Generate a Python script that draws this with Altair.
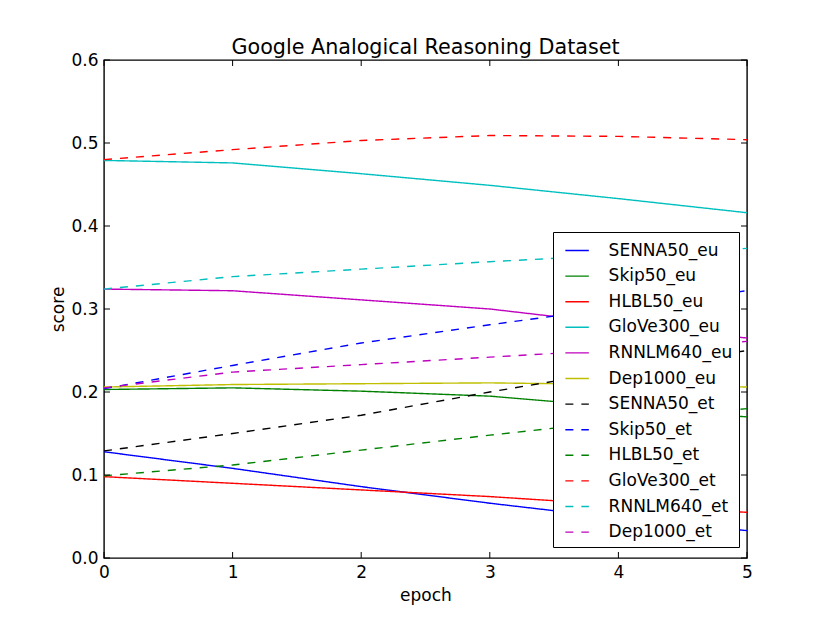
import altair as alt
import pandas as pd

epochs = [0, 1, 2, 3, 4, 5]

series_names = ["SENNA50_eu", "Skip50_eu", "HLBL50_eu", "GloVe300_eu", "RNNLM640_eu", "Dep1000_eu",
                "SENNA50_et", "Skip50_et", "HLBL50_et", "GloVe300_et", "RNNLM640_et", "Dep1000_et"]

SENNA50_eu = [0.128, 0.108, 0.086, 0.066, 0.048, 0.033]
Skip50_eu = [0.203, 0.205, 0.201, 0.195, 0.182, 0.170]
HLBL50_eu = [0.098, 0.090, 0.082, 0.074, 0.064, 0.055]
GloVe300_eu = [0.479, 0.476, 0.463, 0.449, 0.433, 0.416]
RNNLM640_eu = [0.324, 0.322, 0.311, 0.300, 0.282, 0.265]
Dep1000_eu = [0.206, 0.209, 0.210, 0.211, 0.209, 0.206]
SENNA50_et = [0.129, 0.150, 0.172, 0.200, 0.226, 0.250]
Skip50_et = [0.204, 0.232, 0.259, 0.281, 0.302, 0.322]
HLBL50_et = [0.099, 0.112, 0.130, 0.148, 0.165, 0.180]
GloVe300_et = [0.480, 0.492, 0.503, 0.509, 0.508, 0.504]
RNNLM640_et = [0.324, 0.339, 0.348, 0.357, 0.365, 0.373]
Dep1000_et = [0.205, 0.224, 0.233, 0.242, 0.251, 0.261]

series_values = [SENNA50_eu, Skip50_eu, HLBL50_eu, GloVe300_eu, RNNLM640_eu, Dep1000_eu,
                 SENNA50_et, Skip50_et, HLBL50_et, GloVe300_et, RNNLM640_et, Dep1000_et]

colors = ["#0000ff", "#008000", "#ff0000", "#00bfbf", "#bf00bf", "#bfbf00",
          "#000000", "#0000ff", "#008000", "#ff0000", "#00bfbf", "#bf00bf"]
dashes = [[1, 0]] * 6 + [[8, 8]] * 6

x_ticks = [0, 1, 2, 3, 4, 5]
y_ticks = [0.0, 0.1, 0.2, 0.3, 0.4, 0.5, 0.6]

rows = []
for name, vals in zip(series_names, series_values):
    for e, v in zip(epochs, vals):
        rows.append({"series": name, "epoch": e, "score": v})
df = pd.DataFrame(rows)
xt = pd.DataFrame({"epoch": x_ticks})
yt = pd.DataFrame({"score": y_ticks})

W, H = 643, 498
FONT = "DejaVu Sans"
TL = 6

xscale = alt.Scale(domain=[0, 5], nice=False, zero=False)
yscale = alt.Scale(domain=[0, 0.6], nice=False, zero=False)

lines = alt.Chart(df).mark_line(strokeWidth=1.4).encode(
    x=alt.X("epoch:Q", scale=xscale,
            axis=alt.Axis(title="epoch", values=x_ticks, format="d",
                          titleX=W / 2, titleY=42, titleBaseline="alphabetic")),
    y=alt.Y("score:Q", scale=yscale,
            axis=alt.Axis(title="score", values=y_ticks, format=".1f",
                          titleX=-40.5, titleY=H / 2, titleAngle=270,
                          titleBaseline="alphabetic")),
    color=alt.Color("series:N", scale=alt.Scale(domain=series_names, range=colors),
                    legend=alt.Legend(title=None)),
    strokeDash=alt.StrokeDash("series:N", scale=alt.Scale(domain=series_names, range=dashes),
                              legend=alt.Legend(title=None)),
)

xt_bottom = alt.Chart(xt).mark_rule(color="black", strokeWidth=1).encode(
    x=alt.X("epoch:Q", scale=xscale), y=alt.value(H), y2=alt.value(H - TL))
xt_top = alt.Chart(xt).mark_rule(color="black", strokeWidth=1).encode(
    x=alt.X("epoch:Q", scale=xscale), y=alt.value(0), y2=alt.value(TL))
yt_left = alt.Chart(yt).mark_rule(color="black", strokeWidth=1).encode(
    y=alt.Y("score:Q", scale=yscale), x=alt.value(0), x2=alt.value(TL))
yt_right = alt.Chart(yt).mark_rule(color="black", strokeWidth=1).encode(
    y=alt.Y("score:Q", scale=yscale), x=alt.value(W - TL), x2=alt.value(W))

chart = alt.layer(lines, xt_bottom, xt_top, yt_left, yt_right).properties(
    width=W, height=H,
    title=alt.TitleParams("Google Analogical Reasoning Dataset", font=FONT, fontSize=20.7,
                          fontWeight="normal", color="black", anchor="middle",
                          baseline="alphabetic", offset=6, dy=30),
    autosize=alt.AutoSizeParams(type="none"),
    padding={"left": 96, "top": 52, "right": 10, "bottom": 63},
).configure_view(
    stroke="black", strokeWidth=1.4
).configure_axis(
    domain=False, ticks=False, grid=False, labelFont=FONT, labelFontSize=17,
    labelColor="black", titleFont=FONT, titleFontSize=17, titleFontWeight="normal",
    titleColor="black", labelFlush=False, labelOverlap=False,
).configure_axisX(
    labelPadding=6
).configure_axisY(
    labelPadding=6
).configure_legend(
    orient="none", legendX=449, legendY=172, fillColor="white", strokeColor="black",
    padding=6, symbolType="stroke", symbolSize=552, symbolStrokeWidth=1.4,
    symbolOffset=5.6, labelOffset=19, rowPadding=4.6, labelFont=FONT, labelFontSize=17,
    labelColor="black", labelLimit=300,
)

chart.save("out.html", embed_options={"renderer": "svg", "actions": False})
